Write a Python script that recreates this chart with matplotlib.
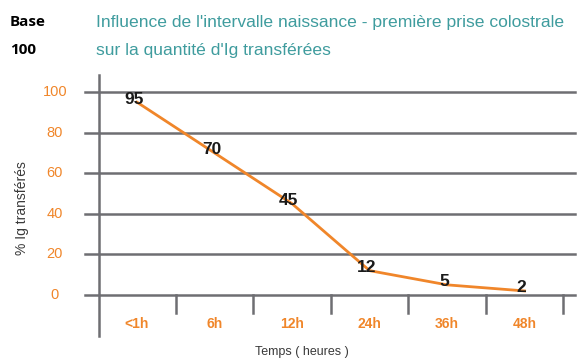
import matplotlib.pyplot as plt

# Ig transfer vs. delay between birth and first colostrum intake
hours = ['<1h', '6h', '12h', '24h', '36h', '48h']
pct_ig = [95, 70, 45, 12, 5, 2]
y_ticks = [0, 20, 40, 60, 80, 100]

orange = '#f0862a'
grey = '#6e6e72'
teal = '#3f9c9e'
narrow = ['Liberation Sans', 'DejaVu Sans']

fig = plt.figure(figsize=(5.81, 3.63), dpi=100)
# axes box in pixels: x 99..575, y 75..336
ax = fig.add_axes([99 / 581, 1 - 336 / 363, 476 / 581, 261 / 363])
ax.set_xlim(-0.49, 5.65)
ax.set_ylim(-20.2, 108.4)
ax.axis('off')

# horizontal grid lines, poking out left of the axis
for y in y_ticks:
    ax.plot([-0.67, 5.65], [y, y], color=grey, lw=1.8, clip_on=False, zorder=1)
    ax.text(-1.06, y, str(y), color=orange, fontsize=10.5, family=narrow,
            ha='center', va='center')

# vertical axis line
ax.plot([-0.49, -0.49], [-20.2, 108.4], color=grey, lw=1.8, clip_on=False, zorder=1)

# category separators below the zero line
for i in range(len(hours)):
    ax.plot([i + 0.5, i + 0.5], [0, -9], color=grey, lw=1.8, clip_on=False, zorder=1)
    ax.text(i, -14.5, hours[i], color=orange, fontsize=10, family=narrow,
            fontweight='bold', ha='center', va='center')

x = list(range(len(hours)))
ax.plot(x, pct_ig, color=orange, lw=2, zorder=2)
for xi, v in zip(x, pct_ig):
    ax.text(xi - 0.04, v + 1.5, str(v), color='#1a1a1a', fontsize=12.5, family=narrow,
            fontweight='bold', ha='center', va='center', zorder=3)

fig.text(302 / 581, 1 - 352 / 363, 'Temps ( heures )', color='#3a3a3a',
         fontsize=9, family=narrow, ha='center', va='center')
fig.text(22 / 581, 1 - 208 / 363, '% Ig transférés', color='#3a3a3a',
         fontsize=10, family=narrow, rotation=90, ha='center', va='center')

fig.text(96 / 581, 1 - 22 / 363, "Influence de l'intervalle naissance - première prise colostrale",
         color=teal, fontsize=12.6, family=narrow, ha='left', va='center')
fig.text(96 / 581, 1 - 51 / 363, "sur la quantité d'Ig transférées",
         color=teal, fontsize=12.6, family=narrow, ha='left', va='center')
fig.text(10 / 581, 1 - 22 / 363, 'Base', color='black', fontsize=11,
         family=['Open Sans', 'DejaVu Sans'], fontweight='bold', ha='left', va='center')
fig.text(10 / 581, 1 - 50 / 363, '100', color='black', fontsize=11,
         family=['Open Sans', 'DejaVu Sans'], fontweight='bold', ha='left', va='center')

fig.savefig('out.png', dpi=100)
